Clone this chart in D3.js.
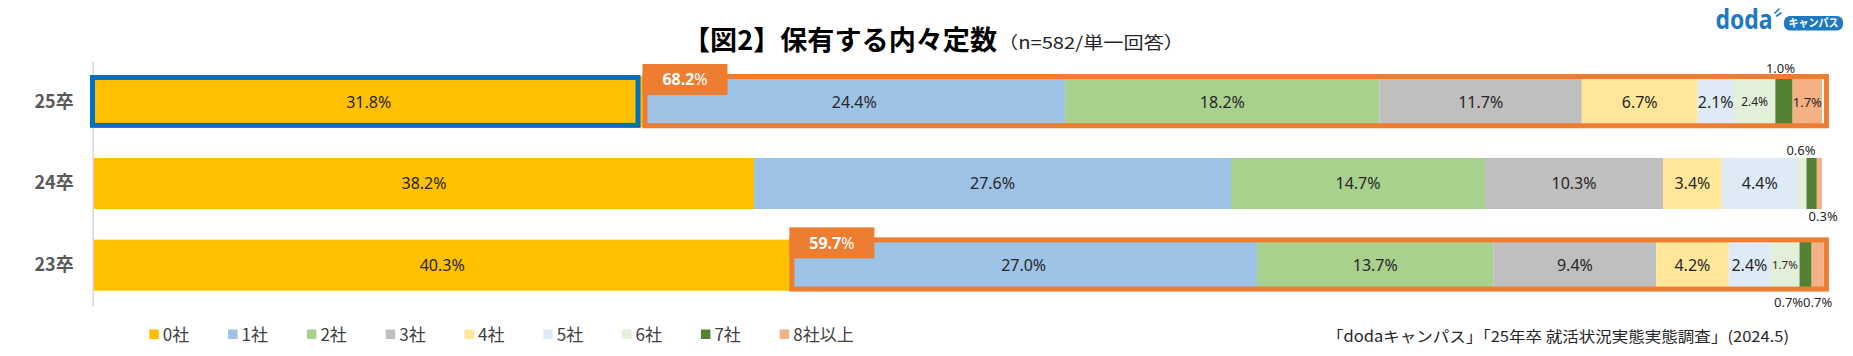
<!DOCTYPE html>
<html><head><meta charset="utf-8">
<script src="https://cdn.jsdelivr.net/npm/d3@7"></script>
<style>body{margin:0;background:#fff;} svg{display:block;}</style>
</head><body>
<svg id="c" width="1853" height="356"></svg>
<script>
// ---- data ----
const years = ["25卒", "24卒", "23卒"];
const seriesNames = ["0社", "1社", "2社", "3社", "4社", "5社", "6社", "7社", "8社以上"];
const v0 = [31.8, 38.2, 40.3];
const v1 = [24.4, 27.6, 27.0];
const v2 = [18.2, 14.7, 13.7];
const v3 = [11.7, 10.3, 9.4];
const v4 = [6.7, 3.4, 4.2];
const v5 = [2.1, 4.4, 2.4];
const v6 = [2.4, 0.5, 1.7];
const v7 = [1.0, 0.6, 0.7];
const v8 = [1.7, 0.3, 0.7];
const colors = ["#FFC000", "#9DC3E6", "#A9D18E", "#BFBFBF", "#FFE699", "#DEEBF7", "#E2F0D9", "#548235", "#F4B183"];
const titleMain = "【図2】保有する内々定数";
const titleSub = "（n=582/単一回答）";
const sourceText = "「dodaキャンパス」「25年卒 就活状況実態実態調査」(2024.5)";

const allVals = [v0, v1, v2, v3, v4, v5, v6, v7, v8];
const table = years.map((yr, i) => {
  const o = { year: yr };
  seriesNames.forEach((s, j) => o[s] = allVals[j][i]);
  return o;
});

const svg = d3.select("#c");
const JP = "'Noto Sans CJK JP', 'Noto Sans', sans-serif";
const NUM = "'Noto Sans', 'Noto Sans CJK JP', sans-serif";

const x = d3.scaleLinear().domain([0, 100]).range([94, 1822]);
const y = d3.scaleBand().domain(years).range([61, 306]).paddingInner(0.375).paddingOuter(0.1875);
const bw = y.bandwidth();
const color = d3.scaleOrdinal().domain(seriesNames).range(colors);

const stacked = d3.stack().keys(seriesNames)(table);

// axis
const ax = svg.append("g").attr("transform", "translate(92.7,0)")
  .call(d3.axisLeft(y).tickSize(0).tickSizeOuter(0).tickPadding(19));
ax.select(".domain").attr("stroke", "#D9D9D9").attr("stroke-width", 1.6);
ax.selectAll("text").attr("font-family", JP).attr("font-size", 18).attr("font-weight", "bold").attr("fill", "#595959");

// bars
const layers = svg.append("g").selectAll("g").data(stacked).join("g").attr("fill", d => color(d.key));
layers.selectAll("rect").data(d => d.map(p => ({ p, key: d.key }))).join("rect")
  .attr("x", d => x(d.p[0]))
  .attr("y", d => y(d.p.data.year))
  .attr("width", d => Math.max(0, x(d.p[1]) - x(d.p[0])))
  .attr("height", bw);

// highlight frames
const rowBlue = "25卒";
svg.append("rect")
  .attr("x", x(0) - 1.5).attr("y", y(rowBlue) + 1.2)
  .attr("width", x(v0[0]) - 5.5 - (x(0) - 1.5)).attr("height", bw - 3.2)
  .attr("fill", "none").attr("stroke", "#0070C0").attr("stroke-width", 5);

const framedRows = ["25卒", "23卒"];
framedRows.forEach(yr => {
  const i = years.indexOf(yr);
  const left = x(v0[i]) + 1.5;
  const top = y(yr) + 0.2;
  const right = x(100) + 4.4;
  svg.append("rect")
    .attr("x", left).attr("y", top)
    .attr("width", right - left).attr("height", bw - 1.8)
    .attr("fill", "none").attr("stroke", "#ED7D31").attr("stroke-width", 5);
  svg.append("rect")
    .attr("x", left - 2.5).attr("y", top - 12.5)
    .attr("width", 85).attr("height", 31)
    .attr("fill", "#ED7D31");
  const t = svg.append("text")
    .attr("x", left - 2.5 + 42.5).attr("y", top - 12.5 + 15.5).attr("dy", "0.36em")
    .attr("text-anchor", "middle").attr("fill", "#fff")
    .attr("font-family", NUM).attr("font-size", 16);
  t.append("tspan").attr("font-weight", "bold").text((100 - v0[i]).toFixed(1));
  t.append("tspan").text("%");
});

// labels
const smallLabel = { "25卒|6社": 12, "25卒|8社以上": 13, "23卒|6社": 11.5 };
const outside = {
  "25卒|7社": { pos: "above", dx: -3.5 },
  "24卒|7社": { pos: "above", dx: -10.6 },
  "24卒|8社以上": { pos: "below", dx: 3.8 },
  "23卒|7社": { pos: "below", dx: -17 },
  "23卒|8社以上": { pos: "below", dx: 0 }
};
const hidden = { "24卒|6社": true };
const labelData = [];
stacked.forEach(layer => layer.forEach(p => {
  const k = p.data.year + "|" + layer.key;
  if (hidden[k]) return;
  labelData.push({ k, p, key: layer.key, val: p[1] - p[0] });
}));
svg.append("g").selectAll("text").data(labelData).join("text")
  .attr("font-family", NUM)
  .attr("fill", "#262626")
  .attr("text-anchor", "middle")
  .attr("font-size", d => outside[d.k] ? 13 : (smallLabel[d.k] || 16))
  .attr("x", d => (x(d.p[0]) + x(d.p[1])) / 2 + (outside[d.k] ? outside[d.k].dx : 0))
  .attr("y", d => {
    const yy = y(d.p.data.year);
    const o = outside[d.k];
    if (!o) return yy + bw / 2;
    return o.pos === "above" ? yy - 3 : (d.p.data.year === "24卒" ? yy + bw + 12.4 : yy + bw + 16);
  })
  .attr("dy", d => outside[d.k] ? 0 : "0.36em")
  .text(d => d.val.toFixed(1) + "%");

// title
svg.append("text").attr("x", 683).attr("y", 50)
  .attr("font-family", JP).attr("font-size", 27).attr("font-weight", "bold").attr("fill", "#000")
  .attr("textLength", 314).attr("lengthAdjust", "spacingAndGlyphs").text(titleMain);
svg.append("text").attr("x", 998).attr("y", 49)
  .attr("font-family", JP).attr("font-size", 17).attr("fill", "#262626")
  .attr("textLength", 186).attr("lengthAdjust", "spacingAndGlyphs").text(titleSub);

// legend
const lg = svg.append("g").selectAll("g").data(seriesNames).join("g")
  .attr("transform", (d, i) => `translate(${149.3 + i * 78.8},329.5)`);
lg.append("rect").attr("width", 9.5).attr("height", 9.5).attr("fill", d => color(d));
lg.append("text").attr("x", 13.5).attr("y", 5).attr("dy", "0.36em")
  .attr("font-family", JP).attr("font-size", 17).attr("fill", "#404040").text(d => d);

// source
svg.append("text").attr("x", 1327).attr("y", 336.5).attr("dy", "0.36em")
  .attr("font-family", JP).attr("font-size", 15).attr("fill", "#262626")
  .attr("textLength", 462).attr("lengthAdjust", "spacingAndGlyphs").text(sourceText);

// logo
const logo = svg.append("g");
logo.append("text").attr("x", 1715.5).attr("y", 28.5)
  .attr("font-family", "'Noto Sans', sans-serif").attr("font-weight", "bold").attr("font-size", 26)
  .attr("fill", "#1E78C2").attr("textLength", 57).attr("lengthAdjust", "spacingAndGlyphs").text("doda");
logo.append("path").attr("d", "M1775,13 L1779,9 M1776.5,16 L1781,13")
  .attr("stroke", "#1E78C2").attr("stroke-width", 1.6).attr("stroke-linecap", "round").attr("fill", "none");
logo.append("rect").attr("x", 1784).attr("y", 16).attr("width", 59).attr("height", 14.5).attr("rx", 6)
  .attr("fill", "#1E78C2");
logo.append("text").attr("x", 1813.5).attr("y", 23.3).attr("dy", "0.36em").attr("text-anchor", "middle")
  .attr("font-family", JP).attr("font-weight", "bold").attr("font-size", 11).attr("fill", "#fff")
  .attr("textLength", 50).attr("lengthAdjust", "spacingAndGlyphs").text("キャンパス");
</script>
</body></html>
